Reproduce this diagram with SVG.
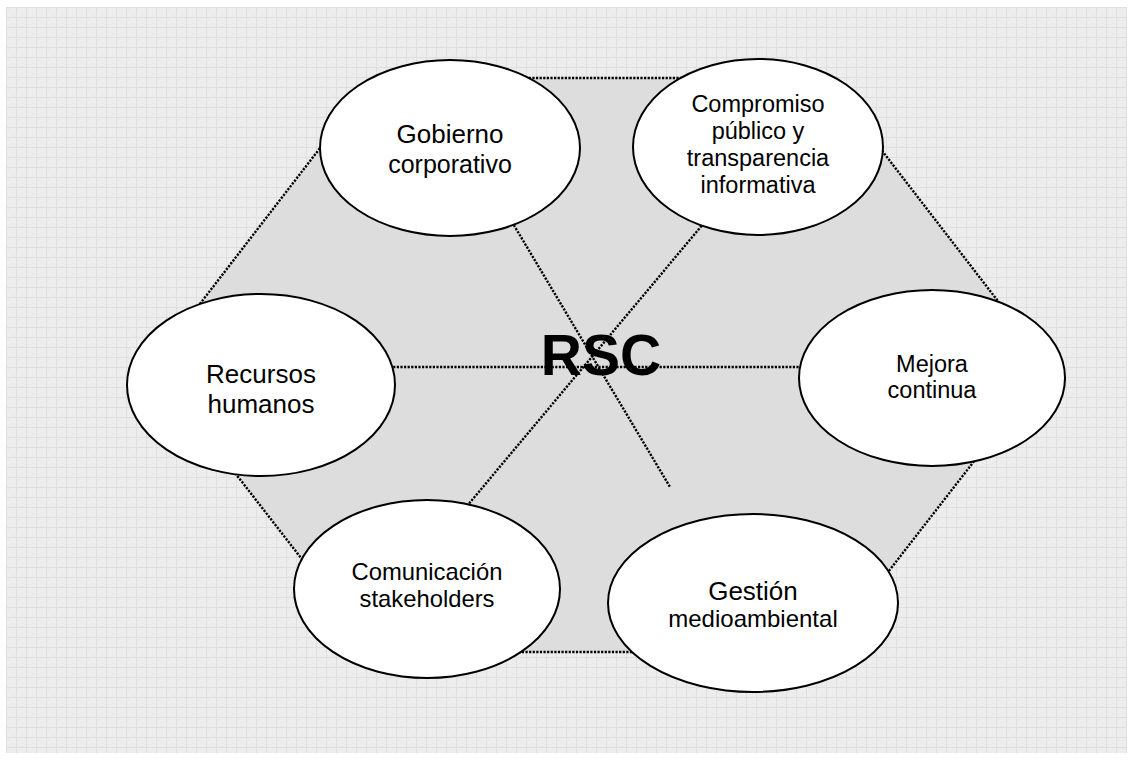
<svg xmlns="http://www.w3.org/2000/svg" width="1133" height="760" viewBox="0 0 1133 760">
  <defs>
    <pattern id="grid" x="6" y="7" width="10" height="10" patternUnits="userSpaceOnUse">
      <rect width="10" height="10" fill="#ededed"/>
      <rect x="2" y="2" width="1" height="1" fill="#e4e4e4"/>
      <rect x="6" y="6" width="1" height="1" fill="#e4e4e4"/>
      <rect x="0" y="0" width="10" height="1" fill="#dfdfdf"/>
      <rect x="0" y="0" width="1" height="10" fill="#dfdfdf"/>
    </pattern>
    <style>
      .node ellipse { fill: #ffffff; stroke: #000000; stroke-width: 2; }
      .node text { font-family: "Liberation Sans", Arial, sans-serif; fill: #000000; text-anchor: middle; }
      .dot { fill: none; stroke: #000000; stroke-width: 2.4; stroke-dasharray: 2.2 1.4; }
      .hex { fill: #dddddd; stroke: none; }
    </style>
  </defs>

  <rect x="0" y="0" width="1133" height="760" fill="#ffffff"/>
  <rect x="6" y="7" width="1121" height="746" fill="url(#grid)"/>

  <polygon class="hex" points="374,78 826,78 1048,366 826,652 374,652 152,366"/>

  <g id="connectors">
    <polygon class="dot" points="374,78 826,78 1048,366 826,652 374,652 152,366"/>
    <line class="dot" x1="152" y1="367" x2="1048" y2="367"/>
    <line class="dot" x1="512" y1="222" x2="670" y2="487"/>
    <line class="dot" x1="704" y1="223" x2="467" y2="506"/>
  </g>

  <g id="rsc" class="node">
    <text x="601" y="375" font-size="57" font-weight="bold">RSC</text>
  </g>

  <g id="gobierno" class="node">
    <ellipse cx="450" cy="148" rx="130" ry="88"/>
    <text x="450" y="143" font-size="26">Gobierno</text>
    <text x="450" y="173" font-size="25">corporativo</text>
  </g>

  <g id="compromiso" class="node">
    <ellipse cx="758" cy="147" rx="125" ry="88"/>
    <text x="758" y="112" font-size="23.5">Compromiso</text>
    <text x="758" y="139" font-size="23.5">público y</text>
    <text x="758" y="166" font-size="23.5">transparencia</text>
    <text x="758" y="193" font-size="23.5">informativa</text>
  </g>

  <g id="recursos" class="node">
    <ellipse cx="261" cy="385" rx="134" ry="91"/>
    <text x="261" y="383" font-size="26">Recursos</text>
    <text x="261" y="413" font-size="26">humanos</text>
  </g>

  <g id="mejora" class="node">
    <ellipse cx="932" cy="378" rx="133" ry="88"/>
    <text x="932" y="372" font-size="23.5">Mejora</text>
    <text x="932" y="398" font-size="23.5">continua</text>
  </g>

  <g id="comunicacion" class="node">
    <ellipse cx="427" cy="589" rx="133" ry="89"/>
    <text x="427" y="580" font-size="23.8">Comunicación</text>
    <text x="427" y="607" font-size="23.8">stakeholders</text>
  </g>

  <g id="gestion" class="node">
    <ellipse cx="753" cy="603" rx="145" ry="89"/>
    <text x="753" y="600" font-size="26">Gestión</text>
    <text x="753" y="627" font-size="24">medioambiental</text>
  </g>
</svg>
